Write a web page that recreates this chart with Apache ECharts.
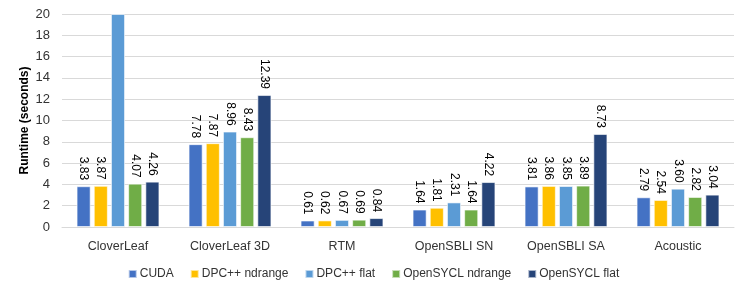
<!DOCTYPE html>
<html><head><meta charset="utf-8">
<script src="https://cdn.jsdelivr.net/npm/echarts@6/dist/echarts.min.js"></script>
<style>html,body{margin:0;padding:0;background:#fff}#c{width:747px;height:292px}</style>
</head><body><div id="c"></div>
<script>
const categories = ["CloverLeaf", "CloverLeaf 3D", "RTM", "OpenSBLI SN", "OpenSBLI SA", "Acoustic"];
const seriesNames = ["CUDA", "DPC++ ndrange", "DPC++ flat", "OpenSYCL ndrange", "OpenSYCL flat"];
const cuda = [3.83, 7.78, 0.61, 1.64, 3.81, 2.79];
const dpcNdrange = [3.87, 7.87, 0.62, 1.81, 3.86, 2.54];
const dpcFlat = [20, 8.96, 0.67, 2.31, 3.85, 3.60];
const syclNdrange = [4.07, 8.43, 0.69, 1.64, 3.89, 2.82];
const syclFlat = [4.26, 12.39, 0.84, 4.22, 8.73, 3.04];
const hiddenLabels = [[2, 0]]; // [series index, category index] clipped bar without label
const colors = ["#4472C4", "#FFC000", "#5B9BD5", "#70AD47", "#264478"];
const allData = [cuda, dpcNdrange, dpcFlat, syclNdrange, syclFlat];

const font = "Liberation Sans";
const chart = echarts.init(document.getElementById('c'));
chart.setOption({
  animation: false,
  textStyle: {fontFamily: font},
  grid: {left: 62, right: 13, top: 14, bottom: 65},
  legend: {
    bottom: 7, left: 'center', itemWidth: 8, itemHeight: 8, itemGap: 16,
    icon: 'rect',
    textStyle: {fontFamily: font, fontSize: 12, color: '#333', padding: [0, 0, 0, -2]},
    data: seriesNames
  },
  xAxis: {
    type: 'category', data: categories,
    axisLine: {lineStyle: {color: '#D9D9D9'}},
    axisTick: {show: false},
    axisLabel: {fontFamily: font, fontSize: 12.5, color: '#333', margin: 13}
  },
  yAxis: {
    type: 'value', min: 0, max: 20, interval: 2,
    name: 'Runtime (seconds)', nameLocation: 'middle', nameGap: 31, nameMoveOverlap: false,
    nameTextStyle: {fontFamily: font, fontSize: 12, fontWeight: 'bold', color: '#000'},
    splitLine: {lineStyle: {color: '#D9D9D9'}},
    axisLine: {show: false}, axisTick: {show: false},
    axisLabel: {fontFamily: font, fontSize: 13, color: '#333', margin: 12}
  },
  series: seriesNames.map((n, i) => ({
    name: n, type: 'bar',
    barGap: '22%', barCategoryGap: '26%',
    itemStyle: {color: colors[i], borderColor: 'rgba(255,255,255,0.6)', borderWidth: 1},
    data: allData[i].map((v, j) => {
      const hide = hiddenLabels.some(h => h[0] === i && h[1] === j);
      return hide ? {value: v, label: {show: false}} : v;
    }),
    label: {
      show: true, position: 'top', rotate: -90, distance: 6,
      align: 'right', verticalAlign: 'middle',
      fontFamily: font, fontSize: 12, color: '#000',
      formatter: p => p.value.toFixed(2)
    }
  }))
});
</script></body></html>
